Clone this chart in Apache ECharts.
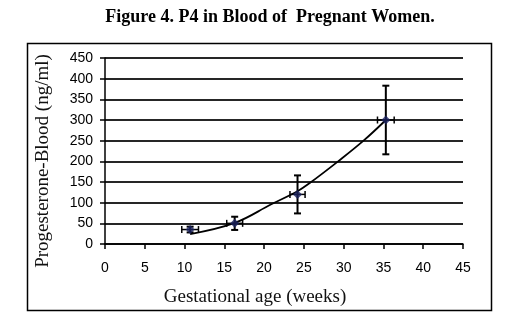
<!DOCTYPE html>
<html>
<head>
<meta charset="utf-8">
<script src="https://cdn.jsdelivr.net/npm/echarts@6/dist/echarts.min.js"></script>
<style>
  html, body { margin: 0; padding: 0; background: #fff; }
  #chart { width: 517px; height: 322px; }
</style>
</head>
<body>
<div id="chart"></div>
<script>
// Mean P4 per gestational group, with error bars in both directions
const weeks = [10.7, 16.3, 24.2, 35.3];
const progesterone = [35, 50, 120, 300];
const weeksErr = [1.05, 1.0, 0.95, 1.05];
const progesteroneErr = [7, 16, 46, 83];

// Fitted trend curve through the groups
const trendWeeks = [10.7, 16.3, 20.9, 24.3, 25.7, 29.3, 32.5, 35.3];
const trendValues = [24, 51, 96, 129, 147, 200, 250, 300];

const yTicks = [0, 50, 100, 150, 200, 250, 300, 350, 400, 450];
const xTicks = [0, 5, 10, 15, 20, 25, 30, 35, 40, 45];

const points = weeks.map((w, i) => [w, progesterone[i]]);
const errData = weeks.map((w, i) => [w, progesterone[i], weeksErr[i], progesteroneErr[i]]);
const trend = trendWeeks.map((w, i) => [w, trendValues[i]]);

const chart = echarts.init(document.getElementById('chart'), null, { renderer: 'canvas' });

const serif = '"Liberation Serif", "DejaVu Serif", serif';
const sans = '"Liberation Sans", Arial, sans-serif';

chart.setOption({
  animation: false,
  backgroundColor: '#fff',
  graphic: [
    {
      type: 'rect',
      shape: { x: 27.5, y: 43.5, width: 464, height: 267 },
      style: { fill: 'none', stroke: '#000', lineWidth: 1.5 },
      z: -1
    },
    {
      type: 'text',
      x: 270, y: 17,
      style: {
        text: 'Figure 4. P4 in Blood of  Pregnant Women.',
        font: 'bold 18px ' + serif,
        fill: '#000',
        align: 'center',
        verticalAlign: 'middle'
      }
    },
    {
      type: 'text',
      x: 43, y: 161,
      rotation: Math.PI / 2,
      style: {
        text: 'Progesterone-Blood (ng/ml)',
        font: '19px ' + serif,
        fill: '#111',
        align: 'center',
        verticalAlign: 'middle'
      }
    },
    {
      type: 'text',
      x: 255, y: 297,
      style: {
        text: 'Gestational age (weeks)',
        font: '19px ' + serif,
        fill: '#111',
        align: 'center',
        verticalAlign: 'middle'
      }
    }
  ],
  grid: { left: 105, right: 54, top: 58, bottom: 78 },
  xAxis: {
    type: 'value',
    min: xTicks[0],
    max: xTicks[xTicks.length - 1],
    interval: 5,
    axisLine: { show: true, lineStyle: { color: '#000', width: 1.5 } },
    axisTick: { show: true, length: 5, lineStyle: { color: '#000', width: 1.5 } },
    axisLabel: { margin: 17, color: '#000', fontFamily: sans, fontSize: 14 },
    splitLine: { show: false }
  },
  yAxis: {
    type: 'value',
    min: yTicks[0],
    max: yTicks[yTicks.length - 1],
    interval: 50,
    axisLine: { show: true, onZero: false, lineStyle: { color: '#000', width: 1.5 } },
    axisTick: { show: true, length: 5, lineStyle: { color: '#000', width: 1.5 } },
    axisLabel: { margin: 12, color: '#000', fontFamily: sans, fontSize: 14 },
    splitLine: { show: true, lineStyle: { color: '#262626', width: 2 } }
  },
  series: [
    {
      name: 'trend',
      type: 'line',
      data: trend,
      smooth: 0.4,
      showSymbol: false,
      lineStyle: { color: '#000', width: 1.8 },
      z: 2
    },
    {
      name: 'errors',
      type: 'custom',
      data: errData,
      z: 3,
      renderItem: function (params, api) {
        const x = api.value(0), y = api.value(1);
        const dx = api.value(2), dy = api.value(3);
        const c = api.coord([x, y]);
        const top = api.coord([x, y + dy]);
        const bot = api.coord([x, y - dy]);
        const lft = api.coord([x - dx, y]);
        const rgt = api.coord([x + dx, y]);
        const cap = 3.5;
        const vs = { stroke: '#000', lineWidth: 2 };
        const hs = { stroke: '#000', lineWidth: 1.5 };
        return {
          type: 'group',
          children: [
            { type: 'line', shape: { x1: c[0], y1: top[1], x2: c[0], y2: bot[1] }, style: vs },
            { type: 'line', shape: { x1: c[0] - cap, y1: top[1], x2: c[0] + cap, y2: top[1] }, style: vs },
            { type: 'line', shape: { x1: c[0] - cap, y1: bot[1], x2: c[0] + cap, y2: bot[1] }, style: vs },
            { type: 'line', shape: { x1: lft[0], y1: c[1], x2: rgt[0], y2: c[1] }, style: hs },
            { type: 'line', shape: { x1: lft[0], y1: c[1] - cap, x2: lft[0], y2: c[1] + cap }, style: hs },
            { type: 'line', shape: { x1: rgt[0], y1: c[1] - cap, x2: rgt[0], y2: c[1] + cap }, style: hs }
          ]
        };
      }
    },
    {
      name: 'P4',
      type: 'scatter',
      data: points,
      symbol: 'diamond',
      symbolSize: 9,
      itemStyle: { color: '#1c2360' },
      z: 4
    }
  ]
});
</script>
</body>
</html>
